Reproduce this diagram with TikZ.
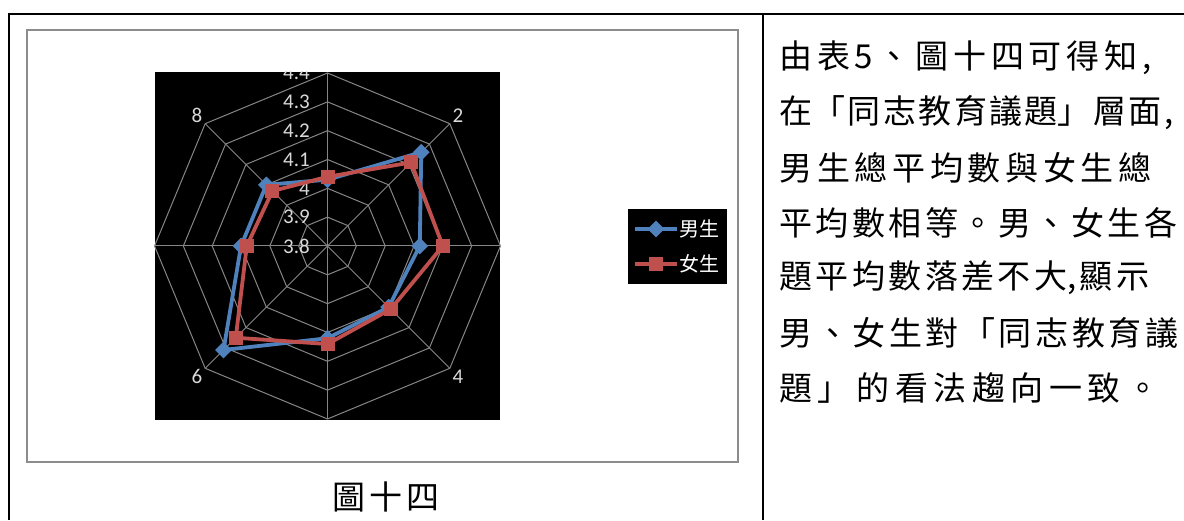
\documentclass[tikz,border=0pt]{standalone}
\usepackage{fontspec}
\usetikzlibrary{shapes.geometric}
\setmainfont{Carlito}
\newfontfamily\cjk{Noto Sans CJK TC}
\definecolor{boyblue}{HTML}{4F81BD}
\definecolor{girlred}{HTML}{C0504D}
\definecolor{gridgray}{HTML}{868686}
\definecolor{framegray}{HTML}{8C8C8C}
\definecolor{ticklabel}{HTML}{D9D9D9}
\makeatletter
\def\spread@#1#2\@nil{#1\ifx\relax#2\relax\else\hfill\spread@#2\@nil\fi}
\newcommand{\spread}[2]{\makebox[#1][s]{\spread@#2\@nil}}
\makeatother

\begin{document}
\begin{tikzpicture}[x=0.5pt,y=0.5pt,
  textline/.style={anchor=west,inner sep=0pt,font=\cjk\fontsize{16.5}{19}\selectfont},
  ticknum/.style={anchor=east,inner sep=0pt,text=ticklabel,font=\fontsize{10.5}{12}\selectfont},
  legtext/.style={anchor=west,inner sep=0pt,text=white,font=\cjk\fontsize{10}{12}\selectfont},
  boyline/.style={boyblue,line width=1.9pt,line join=round},
  girlline/.style={girlred,line width=1.9pt,line join=round},
  boymark/.style={diamond,fill=boyblue,inner sep=0pt,minimum size=8.5pt},
  girlmark/.style={rectangle,fill=girlred,inner sep=0pt,minimum size=7pt}]
\useasboundingbox (0,0) rectangle (1184,520);
% table rules
\draw[line width=1.2pt] (9,0) -- (9,506) -- (1190,506); \draw[line width=1.2pt] (763,0) -- (763,506);
% chart area
\draw[framegray,line width=1pt] (27,58) rectangle (738,490);
\fill (155,100) rectangle (500,448); \fill (628,236) rectangle (727,311);
\begin{scope}[shift={(327.5,274)},x=14.415pt,y=14.415pt]
\foreach \r in {1,...,6} { \draw[gridgray,line width=0.5pt] (90:\r) \foreach \a in {45,0,...,-225} { -- (\a:\r) } -- cycle; };
\foreach \a in {90,45,...,-225} { \draw[gridgray,line width=0.5pt] (0,0) -- (\a:6); };
\begin{scope} \clip (-5.99,-6.04) rectangle (5.99,6.04);
\foreach \k/\v in {0/3.8,1/3.9,2/4,3/4.1,4/4.2,5/4.3,6/4.4} { \node[ticknum] (tick\k) at (-0.6,\k) {\v}; };
\end{scope}
\foreach \k/\a in {2/45,4/-45,6/-135,8/135} { \node[ticknum,anchor=center] (cat\k) at (\a:6.4) {\k}; };
% boys and girls
\foreach \k/\a/\r in {1/90/2.3,2/45/4.6,3/0/3.2,4/-45/3.0,5/-90/3.2,6/-135/5.1,7/-180/3.0,8/-225/3.0} { \coordinate (b\k) at (\a:\r); };
\foreach \k/\a/\r in {1/90/2.4,2/45/4.1,3/0/4.0,4/-45/3.1,5/-90/3.4,6/-135/4.5,7/-180/2.8,8/-225/2.7} { \coordinate (g\k) at (\a:\r); };
\draw[boyline] (b1) -- (b2) -- (b3) -- (b4) -- (b5) -- (b6) -- (b7) -- (b8) -- cycle;
\foreach \k in {1,...,8} { \node[boymark] (bm\k) at (b\k) {}; };
\draw[girlline] (g1) -- (g2) -- (g3) -- (g4) -- (g5) -- (g6) -- (g7) -- (g8) -- cycle;
\foreach \k in {1,...,8} { \node[girlmark] (gm\k) at (g\k) {}; };
\end{scope}
% legend
\coordinate (lb0) at (635,291); \coordinate (lb1) at (677,291); \coordinate (lg0) at (635,256); \coordinate (lg1) at (677,256);
\draw[boyline] (lb0) -- (lb1); \node[boymark] (lbm) at (656,291) {}; \node[legtext] (lbt) at (679,291) {男生};
\draw[girlline] (lg0) -- (lg1); \node[girlmark] (lgm) at (656,256) {}; \node[legtext] (lgt) at (679,256) {女生};
% caption and text
\node[textline,anchor=center] (cap) at (386,23) {\spread{54pt}{圖十四}};
\node[textline] (l1) at (779,462) {\spread{186pt}{由表5、圖十四可得{知,}}};
\node[textline] (l2) at (779,407) {\spread{197pt}{{在「}同志教育議{題」}層{面,}}};
\node[textline] (l3) at (779,352) {\spread{186pt}{男生總平均數與女生總}};
\node[textline] (l4) at (779,297) {\spread{199pt}{平均數相等。男、女生各}};
\node[textline] (l5) at (779,242) {\spread{185pt}{題平均數落差不{大,}顯示}};
\node[textline] (l6) at (779,187) {\spread{199.5pt}{男、女生對「同志教育議}};
\node[textline] (l7) at (779,132) {\spread{190pt}{題」的看法趨向一致。}};
\end{tikzpicture}
\end{document}
